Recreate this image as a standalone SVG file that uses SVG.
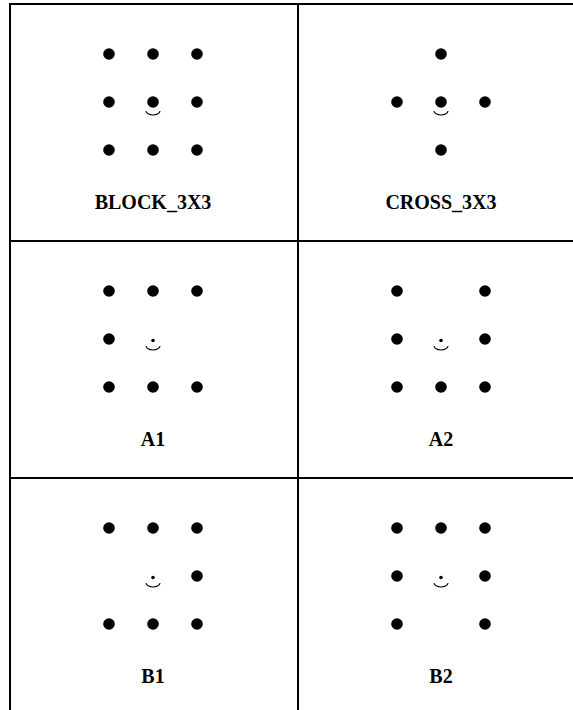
<svg xmlns="http://www.w3.org/2000/svg" xmlns:xlink="http://www.w3.org/1999/xlink" width="573" height="710" viewBox="0 0 573 710">
  <style>
    .grid { stroke: #000; stroke-width: 2; fill: none; }
    .lbl { font-family: "Liberation Serif", "Times New Roman", serif; font-weight: bold; font-size: 20px; fill: #000; text-anchor: middle; }
    .smile { fill: none; stroke: #000; stroke-width: 1.1; }
  </style>
  <defs>
    <circle id="d" r="5.8" fill="#000"/>
    <circle id="s" r="1.8" fill="#000"/>
    <path id="sm" class="smile" d="M-7,0 A7,4 0 0 0 7,0"/>
  </defs>
  <rect x="0" y="0" width="573" height="710" fill="#fff"/>
  <g id="grid">
    <line class="grid" x1="10" y1="3" x2="10" y2="712"/>
    <line class="grid" x1="298" y1="3" x2="298" y2="712"/>
    <line class="grid" x1="9" y1="4" x2="575" y2="4"/>
    <line class="grid" x1="9" y1="241" x2="575" y2="241"/>
    <line class="grid" x1="9" y1="478" x2="575" y2="478"/>
  </g>
  <g id="block_3x3">
    <use href="#d" x="109" y="54"/><use href="#d" x="153" y="54"/><use href="#d" x="197" y="54"/>
    <use href="#d" x="109" y="102"/><use href="#d" x="153" y="102"/><use href="#d" x="197" y="102"/>
    <use href="#d" x="109" y="150"/><use href="#d" x="153" y="150"/><use href="#d" x="197" y="150"/>
    <use href="#sm" x="153" y="111"/>
    <text class="lbl" x="153" y="209">BLOCK_3X3</text>
  </g>
  <g id="cross_3x3">
    <use href="#d" x="441" y="54"/>
    <use href="#d" x="397" y="102"/><use href="#d" x="441" y="102"/><use href="#d" x="485" y="102"/>
    <use href="#d" x="441" y="150"/>
    <use href="#sm" x="441" y="111"/>
    <text class="lbl" x="441" y="209">CROSS_3X3</text>
  </g>
  <g id="a1">
    <use href="#d" x="109" y="291"/><use href="#d" x="153" y="291"/><use href="#d" x="197" y="291"/>
    <use href="#d" x="109" y="339"/><use href="#s" x="153" y="340.5"/>
    <use href="#d" x="109" y="387"/><use href="#d" x="153" y="387"/><use href="#d" x="197" y="387"/>
    <use href="#sm" x="153" y="346"/>
    <text class="lbl" x="153" y="446">A1</text>
  </g>
  <g id="a2">
    <use href="#d" x="397" y="291"/><use href="#d" x="485" y="291"/>
    <use href="#d" x="397" y="339"/><use href="#s" x="441" y="340.5"/><use href="#d" x="485" y="339"/>
    <use href="#d" x="397" y="387"/><use href="#d" x="441" y="387"/><use href="#d" x="485" y="387"/>
    <use href="#sm" x="441" y="346"/>
    <text class="lbl" x="441" y="446">A2</text>
  </g>
  <g id="b1">
    <use href="#d" x="109" y="528"/><use href="#d" x="153" y="528"/><use href="#d" x="197" y="528"/>
    <use href="#s" x="153" y="577.5"/><use href="#d" x="197" y="576"/>
    <use href="#d" x="109" y="624"/><use href="#d" x="153" y="624"/><use href="#d" x="197" y="624"/>
    <use href="#sm" x="153" y="583"/>
    <text class="lbl" x="153" y="683">B1</text>
  </g>
  <g id="b2">
    <use href="#d" x="397" y="528"/><use href="#d" x="441" y="528"/><use href="#d" x="485" y="528"/>
    <use href="#d" x="397" y="576"/><use href="#s" x="441" y="577.5"/><use href="#d" x="485" y="576"/>
    <use href="#d" x="397" y="624"/><use href="#d" x="485" y="624"/>
    <use href="#sm" x="441" y="583"/>
    <text class="lbl" x="441" y="683">B2</text>
  </g>
</svg>
